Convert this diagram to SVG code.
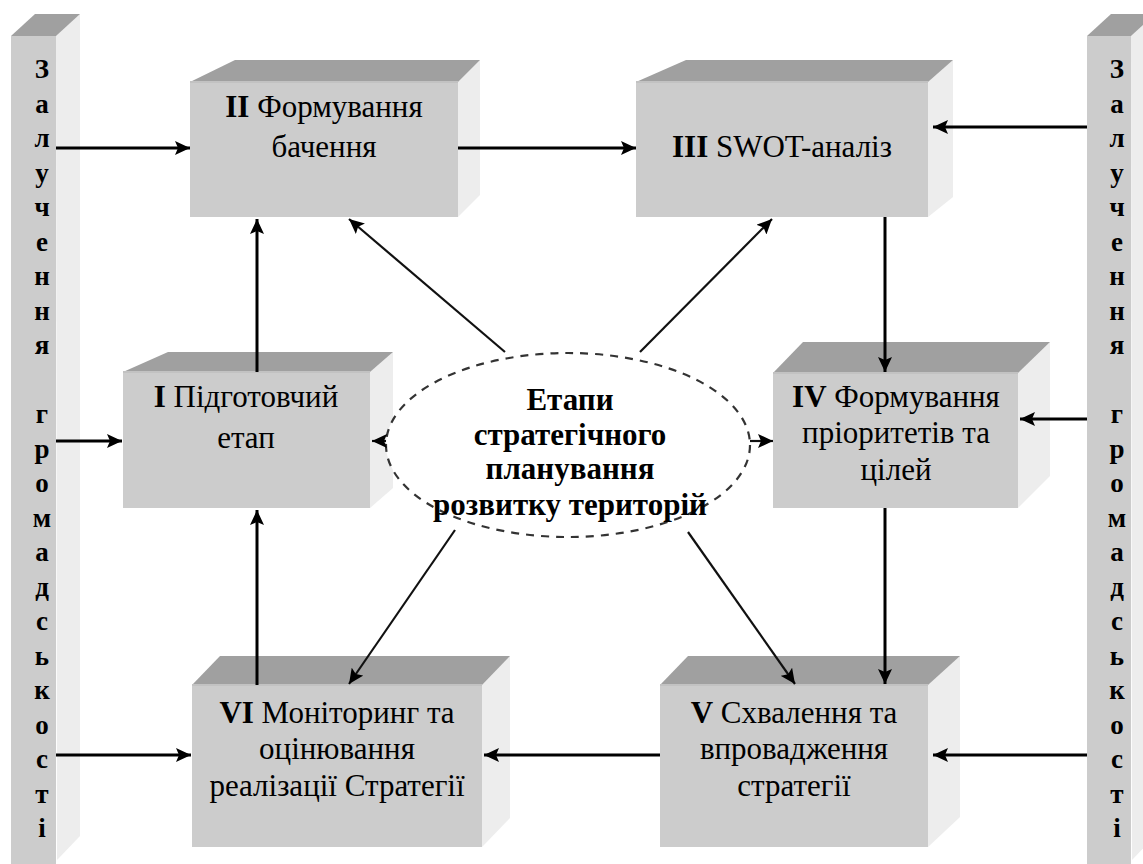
<svg xmlns="http://www.w3.org/2000/svg" width="1143" height="864" viewBox="0 0 1143 864">
<style>
.front{fill:#cccccc}
.top{fill:#a0a0a0}
.edge{fill:none;stroke:#c2c2c2;stroke-width:2}
.side{fill:#ededed}
.t{font-family:"Liberation Serif","Times New Roman",serif;font-size:31px;text-anchor:middle;fill:#000}
.b{font-weight:bold}
.v{font-family:"Liberation Serif","Times New Roman",serif;font-size:27px;font-weight:bold;text-anchor:middle;fill:#000}
.c{fill:none;stroke:#000;stroke-width:3;marker-end:url(#ah)}
.d{fill:none;stroke:#111;stroke-width:2.2;marker-end:url(#ah2)}
</style>
<defs>
<marker id="ah" markerUnits="userSpaceOnUse" markerWidth="16" markerHeight="14" refX="15" refY="7" orient="auto">
<path d="M0,0 L15,7 L0,14 L3,7 z" fill="#000"/>
</marker>
<marker id="ah2" markerUnits="userSpaceOnUse" markerWidth="16" markerHeight="14" refX="15" refY="7" orient="auto">
<path d="M0,0 L15,7 L0,14 L3,7 z" fill="#000"/>
</marker>
</defs>
<rect width="1143" height="864" fill="#fff"/>

<g id="bar-left">
<polygon class="side" points="56,36 80,14 80,836 57,860"/>
<polygon class="top" points="11,36 56,36 80,14 35,14"/>
<rect class="front" x="11" y="36" width="45" height="828"/>
<g class="v">
<text x="42" y="78">З</text><text x="42" y="112.5">а</text><text x="42" y="147">л</text><text x="42" y="181.5">у</text><text x="42" y="216">ч</text><text x="42" y="250.5">е</text><text x="42" y="285">н</text><text x="42" y="319.5">н</text><text x="42" y="354">я</text>
<text x="42" y="423">г</text><text x="42" y="457.5">р</text><text x="42" y="492">о</text><text x="42" y="526.5">м</text><text x="42" y="561">а</text><text x="42" y="595.5">д</text><text x="42" y="630">с</text><text x="42" y="664.5">ь</text><text x="42" y="699">к</text><text x="42" y="733.5">о</text><text x="42" y="768">с</text><text x="42" y="802.5">т</text><text x="42" y="837">і</text>
</g>
</g>

<g id="bar-right">
<polygon class="side" points="1131,36 1155,14 1155,836 1132,860"/>
<polygon class="top" points="1087,36 1131,36 1155,14 1111,14"/>
<rect class="front" x="1087" y="36" width="44" height="828"/>
<g class="v">
<text x="1117" y="78">З</text><text x="1117" y="112.5">а</text><text x="1117" y="147">л</text><text x="1117" y="181.5">у</text><text x="1117" y="216">ч</text><text x="1117" y="250.5">е</text><text x="1117" y="285">н</text><text x="1117" y="319.5">н</text><text x="1117" y="354">я</text>
<text x="1117" y="423">г</text><text x="1117" y="457.5">р</text><text x="1117" y="492">о</text><text x="1117" y="526.5">м</text><text x="1117" y="561">а</text><text x="1117" y="595.5">д</text><text x="1117" y="630">с</text><text x="1117" y="664.5">ь</text><text x="1117" y="699">к</text><text x="1117" y="733.5">о</text><text x="1117" y="768">с</text><text x="1117" y="802.5">т</text><text x="1117" y="837">і</text>
</g>
</g>

<g id="box-II">
<polygon class="side" points="458,82 480,60 480,195 458,217"/>
<polygon class="top" points="190,82 458,82 480,60 235,60"/>
<rect class="front" x="190" y="82" width="268" height="135"/>
<line class="edge" x1="190" y1="82" x2="458" y2="82"/>
<text class="t" x="324" y="117"><tspan class="b">II</tspan> Формування</text>
<text class="t" x="324" y="157">бачення</text>
</g>

<g id="box-III">
<polygon class="side" points="928,82 953,60 953,197 928,217"/>
<polygon class="top" points="636,82 928,82 953,60 686,60"/>
<rect class="front" x="636" y="82" width="292" height="135"/>
<line class="edge" x1="636" y1="82" x2="928" y2="82"/>
<text class="t" x="782" y="157"><tspan class="b">III</tspan> SWOT-аналіз</text>
</g>

<g id="box-I">
<polygon class="side" points="370,372 393,352 393,488 370,508"/>
<polygon class="top" points="123,372 370,372 393,352 168,352"/>
<rect class="front" x="123" y="372" width="247" height="136"/>
<line class="edge" x1="123" y1="372" x2="370" y2="372"/>
<text class="t" x="246" y="407"><tspan class="b">I</tspan> Підготовчий</text>
<text class="t" x="246" y="448">етап</text>
</g>

<g id="box-IV">
<polygon class="side" points="1018,373 1050,342 1050,476 1018,508"/>
<polygon class="top" points="773,373 1018,373 1050,342 803,342"/>
<rect class="front" x="773" y="373" width="245" height="135"/>
<line class="edge" x1="773" y1="373" x2="1018" y2="373"/>
<text class="t" x="896" y="407"><tspan class="b">IV</tspan> Формування</text>
<text class="t" x="896" y="443">пріоритетів та</text>
<text class="t" x="896" y="480">цілей</text>
</g>

<g id="box-VI">
<polygon class="side" points="482,685 510,656 510,818 482,847"/>
<polygon class="top" points="192,685 482,685 510,656 220,656"/>
<rect class="front" x="192" y="685" width="290" height="162"/>
<line class="edge" x1="192" y1="685" x2="482" y2="685"/>
<text class="t" x="337" y="723"><tspan class="b">VI</tspan> Моніторинг та</text>
<text class="t" x="337" y="759">оцінювання</text>
<text class="t" x="337" y="796">реалізації Стратегії</text>
</g>

<g id="box-V">
<polygon class="side" points="928,685 960,656 960,817 928,847"/>
<polygon class="top" points="660,685 928,685 960,656 688,656"/>
<rect class="front" x="660" y="685" width="268" height="162"/>
<line class="edge" x1="660" y1="685" x2="928" y2="685"/>
<text class="t" x="794" y="723"><tspan class="b">V</tspan> Схвалення та</text>
<text class="t" x="794" y="759">впровадження</text>
<text class="t" x="794" y="796">стратегії</text>
</g>

<g id="center">
<ellipse cx="568" cy="445" rx="182" ry="92" fill="#fff" stroke="#333" stroke-width="2.2" stroke-dasharray="8,7"/>
<text class="t b" x="570" y="410">Етапи</text>
<text class="t b" x="570" y="445">стратегічного</text>
<text class="t b" x="570" y="479">планування</text>
<text class="t b" x="570" y="515">розвитку територій</text>
</g>

<g id="connectors">
<path class="c" d="M56,148 H190"/>
<path class="c" d="M56,441 H122"/>
<path class="c" d="M56,755 H191"/>
<path class="c" d="M1087,127 H933"/>
<path class="c" d="M1087,419 H1020"/>
<path class="c" d="M1087,755 H933"/>
<path class="c" d="M458,148 H636"/>
<path class="c" d="M885,217 V372"/>
<path class="c" d="M885,508 V684"/>
<path class="c" d="M660,755 H484"/>
<path class="c" d="M257,685 V510"/>
<path class="c" d="M257,372 V219"/>
<path class="d" d="M505,352 L349,219"/>
<path class="d" d="M640,352 L772,219"/>
<path class="d" d="M386,441 H372"/>
<path class="d" d="M750,441 H773"/>
<path class="d" d="M455,530 L349,684"/>
<path class="d" d="M688,532 L795,684"/>
</g>
</svg>
